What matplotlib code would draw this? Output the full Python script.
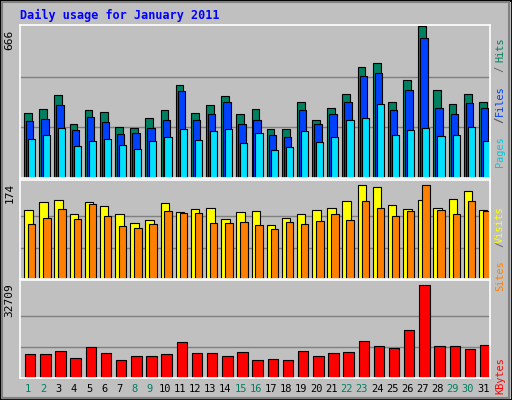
import numpy as np
import matplotlib
matplotlib.use("Agg")
import matplotlib.pyplot as plt
from matplotlib.patches import Rectangle

days = list(range(1, 32))
weekend = {1, 2, 8, 9, 15, 16, 22, 23, 29, 30}

# values (pixel heights converted to units)
hits_px = [280, 268, 229, 313, 271, 277, 319, 322, 295, 271, 199, 280, 256, 232, 283, 268,
           325, 325, 247, 301, 265, 226, 148, 136, 247, 184, 28, 214, 253, 226, 247]
files_px = [304, 298, 256, 328, 292, 307, 340, 337, 322, 301, 217, 301, 283, 247, 313, 301,
            343, 349, 271, 313, 283, 247, 172, 163, 271, 214, 64, 265, 283, 250, 265]
pages_px = [355, 343, 322, 376, 361, 355, 373, 385, 361, 349, 325, 358, 331, 325, 367, 337,
            388, 379, 331, 364, 349, 301, 295, 253, 343, 328, 322, 346, 343, 319, 361]
visits_px = [103, 79, 73, 115, 79, 91, 115, 139, 130, 82, 109, 100, 97, 127, 109, 106,
             145, 124, 115, 103, 97, 76, 28, 34, 88, 100, 73, 97, 70, 46, 103]
sites_px = [142, 124, 100, 127, 85, 118, 148, 154, 142, 106, 112, 112, 139, 139, 136, 145,
            157, 136, 142, 133, 115, 130, 76, 97, 118, 106, 28, 103, 115, 76, 106]
kb_px = [532, 532, 523, 544, 511, 529, 550, 538, 538, 532, 496, 529, 529, 538, 526, 550,
         547, 550, 523, 538, 529, 526, 493, 508, 514, 460, 328, 508, 508, 517, 505]

hits = [(468 - v) * 666 / 440 for v in hits_px]
files = [(468 - v) * 666 / 440 for v in files_px]
pages = [(468 - v) * 666 / 440 for v in pages_px]
visits = [(304 - v) * 174 / 276 for v in visits_px]
sites = [(304 - v) * 174 / 276 for v in sites_px]
kbytes = [(602 - v) * 32709 / 274 for v in kb_px]

W, H = 512, 400
BG = "#c0c0c0"
fig = plt.figure(figsize=(W / 100, H / 100), dpi=100, facecolor=BG)
fig.patches.append(Rectangle((0, 0), 1, 1, transform=fig.transFigure, fill=False,
                             edgecolor="black", lw=2))
fig.patches.append(Rectangle((0.004, 0.006), 0.99, 0.988, transform=fig.transFigure,
                             fill=False, edgecolor="#808080", lw=1.5))


def panel(top, bottom):
    ax = fig.add_axes([20 / W, 1 - bottom / H, 470 / W, (bottom - top) / H])
    ax.set_facecolor(BG)
    ax.set_xlim(0, 31)
    ax.set_xticks([])
    ax.set_yticks([])
    for s in ax.spines.values():
        s.set_color("white")
        s.set_linewidth(1.2)
    return ax


x = np.arange(31)
ec = dict(edgecolor="black", linewidth=0.8, align="edge")

# top: hits / files / pages
ax1 = panel(25, 178)
ax1.set_ylim(0, 666 * 440 / 437)
for g in (222, 444):
    ax1.axhline(g, color="#808080", lw=1, zorder=0)
ax1.bar(x + 0.27, hits, 0.51, color="#008060", **ec)
ax1.bar(x + 0.40, files, 0.49, color="#0040ff", **ec)
ax1.bar(x + 0.53, pages, 0.47, color="#00e0ff", **ec)
ax1.text(-0.012, 0.97, "666", transform=ax1.transAxes, rotation=90, ha="right", va="top",
         family="DejaVu Sans Mono", fontsize=8)

# middle: visits / sites
ax2 = panel(180, 279)
ax2.set_ylim(0, 174 * 290 / 276)
for g in (58, 116):
    ax2.axhline(g, color="#808080", lw=1, zorder=0)
ax2.bar(x + 0.27, visits, 0.56, color="#ffff00", **ec)
ax2.bar(x + 0.53, sites, 0.49, color="#ff8000", **ec)
ax2.text(-0.012, 0.97, "174", transform=ax2.transAxes, rotation=90, ha="right", va="top",
         family="DejaVu Sans Mono", fontsize=8)

# bottom: kbytes
ax3 = panel(280, 378)
ax3.set_ylim(0, 32709 * 288 / 274)
for g in (10903, 21806):
    ax3.axhline(g, color="#808080", lw=1, zorder=0)
ax3.bar(x + 0.33, kbytes, 0.69, color="#ff0000", **ec)
ax3.text(-0.012, 0.97, "32709", transform=ax3.transAxes, rotation=90, ha="right", va="top",
         family="DejaVu Sans Mono", fontsize=8)

for i, d in enumerate(days):
    ax3.text((i + 0.55) / 31, -0.11, str(d), transform=ax3.transAxes, ha="center", va="center",
             fontsize=7.5, family="DejaVu Sans Mono",
             color="#008060" if d in weekend else "black")

fig.text(20 / W, 1 - 15 / H, "Daily usage for January 2011", color="#0000ff",
         fontweight="bold", family="DejaVu Sans Mono", fontsize=8.5, va="center")

SIDE_FS = 7.4
STEP = SIDE_FS * 0.602 * 100 / 72 + 0.2


def side_label(parts, y_bottom):
    # stack rotated text pieces from bottom to top
    y = y_bottom
    mono = dict(family="DejaVu Sans Mono", fontsize=SIDE_FS, rotation=90, ha="center",
                va="baseline", rotation_mode="anchor")
    for txt, col in parts:
        if txt.strip():
            fig.text(503 / W, 1 - y / H, txt, color=col, **mono)
        y -= len(txt) * STEP


side_label([("Pages", "#00c8e0"), (" / ", "#606060"), ("Files", "#0040ff"),
            (" / ", "#606060"), ("Hits", "#008060")], 152)
side_label([("Sites", "#ff8000"), (" / ", "#606060"), ("Visits", "#ffff00")], 276)
side_label([("KBytes", "#ff0000")], 376)
fig.text(503 / W, 1 - (152 - 5 * STEP) / H, "  /  ", color="#606060", family="DejaVu Sans Mono",
         fontsize=SIDE_FS, rotation=90, ha="center", va="baseline", rotation_mode="anchor")

fig.savefig("out.png", dpi=100, facecolor=BG)
